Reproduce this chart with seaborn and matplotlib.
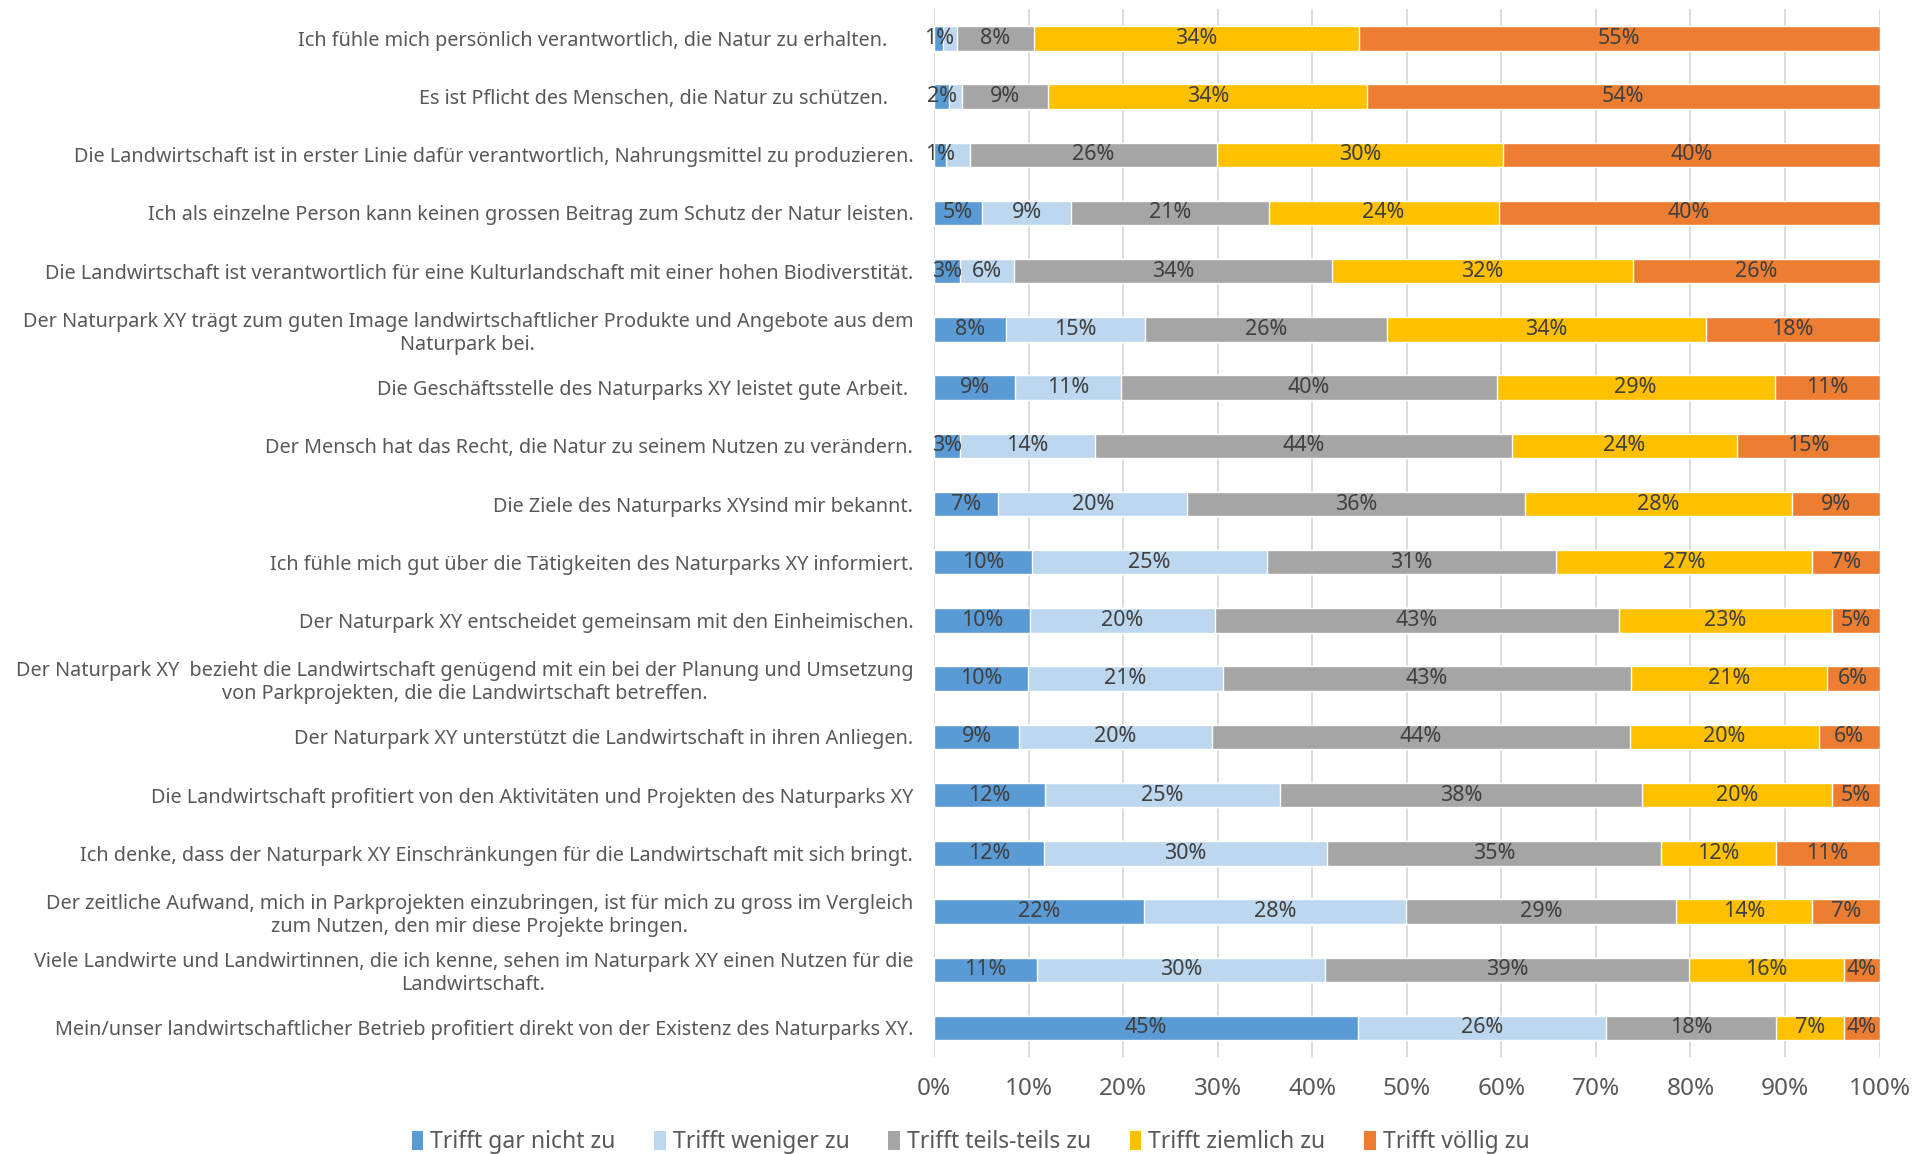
import numpy as np
import pandas as pd
import matplotlib
matplotlib.use("Agg")
import matplotlib.pyplot as plt
import seaborn as sns
from matplotlib.patches import Patch

# Kategorien (von oben nach unten)
statements = [
    "Ich fühle mich persönlich verantwortlich, die Natur zu erhalten.     ",
    "Es ist Pflicht des Menschen, die Natur zu schützen.     ",
    "Die Landwirtschaft ist in erster Linie dafür verantwortlich, Nahrungsmittel zu produzieren.",
    "Ich als einzelne Person kann keinen grossen Beitrag zum Schutz der Natur leisten.",
    "Die Landwirtschaft ist verantwortlich für eine Kulturlandschaft mit einer hohen Biodiverstität.",
    "Der Naturpark XY trägt zum guten Image landwirtschaftlicher Produkte und Angebote aus dem\nNaturpark bei.",
    "Die Geschäftsstelle des Naturparks XY leistet gute Arbeit. ",
    "Der Mensch hat das Recht, die Natur zu seinem Nutzen zu verändern.",
    "Die Ziele des Naturparks XYsind mir bekannt.",
    "Ich fühle mich gut über die Tätigkeiten des Naturparks XY informiert.",
    "Der Naturpark XY entscheidet gemeinsam mit den Einheimischen.",
    "Der Naturpark XY  bezieht die Landwirtschaft genügend mit ein bei der Planung und Umsetzung\nvon Parkprojekten, die die Landwirtschaft betreffen.",
    "Der Naturpark XY unterstützt die Landwirtschaft in ihren Anliegen.",
    "Die Landwirtschaft profitiert von den Aktivitäten und Projekten des Naturparks XY",
    "Ich denke, dass der Naturpark XY Einschränkungen für die Landwirtschaft mit sich bringt.",
    "Der zeitliche Aufwand, mich in Parkprojekten einzubringen, ist für mich zu gross im Vergleich\nzum Nutzen, den mir diese Projekte bringen.",
    "Viele Landwirte und Landwirtinnen, die ich kenne, sehen im Naturpark XY einen Nutzen für die\nLandwirtschaft.",
    "Mein/unser landwirtschaftlicher Betrieb profitiert direkt von der Existenz des Naturparks XY.",
]

series_names = ["Trifft gar nicht zu", "Trifft weniger zu", "Trifft teils-teils zu",
                "Trifft ziemlich zu", "Trifft völlig zu"]

gar_nicht = [1.0, 1.6, 1.3, 5.1, 2.7, 7.6, 8.6, 2.7, 6.8, 10.4, 10.1, 9.9, 9.0, 11.7, 11.6, 22.2, 10.9, 44.8]
weniger = [1.4, 1.4, 2.5, 9.4, 5.8, 14.7, 11.2, 14.3, 20.0, 24.8, 19.6, 20.7, 20.4, 24.9, 30.0, 27.7, 30.4, 26.3]
teils = [8.2, 9.1, 26.1, 20.9, 33.6, 25.6, 39.7, 44.1, 35.7, 30.6, 42.7, 43.1, 44.2, 38.3, 35.3, 28.6, 38.6, 17.9]
ziemlich = [34.3, 33.7, 30.3, 24.3, 31.8, 33.7, 29.4, 23.8, 28.2, 27.1, 22.6, 20.7, 20.0, 20.1, 12.1, 14.4, 16.3, 7.2]
voellig = [55.1, 54.2, 39.8, 40.3, 26.1, 18.4, 11.1, 15.1, 9.3, 7.1, 5.0, 5.6, 6.4, 5.0, 11.0, 7.1, 3.8, 3.8]

colors = ["#5B9BD5", "#BDD7EE", "#A5A5A5", "#FFC000", "#ED7D31"]

sns.set_style("white")
plt.rcParams["font.family"] = ["Noto Sans", "DejaVu Sans"]

df = pd.DataFrame({
    "Aussage": statements,
    series_names[0]: gar_nicht,
    series_names[1]: weniger,
    series_names[2]: teils,
    series_names[3]: ziemlich,
    series_names[4]: voellig,
})
vals = df[series_names].to_numpy()
cum = vals.cumsum(axis=1)

fig = plt.figure(figsize=(19.14, 11.54), dpi=100)
ax = fig.add_axes([0.488, 0.084, 0.494, 0.908])

# gestapelte Balken: von hinten (kumuliert) nach vorne
for i in range(len(series_names) - 1, -1, -1):
    sns.barplot(x=cum[:, i], y=df["Aussage"], orient="h", color=colors[i],
                width=0.42, saturation=1, ax=ax, zorder=2)

# Datenbeschriftungen
for r in range(len(statements)):
    for i in range(len(series_names)):
        v = vals[r, i]
        if i == 1 and v < 2.6:
            continue
        x = cum[r, i] - v / 2
        ax.text(x, r, f"{v:.0f}%", ha="center", va="center",
                fontsize=15.5, color="#404040", zorder=3)

ax.set_xlim(0, 100)
ax.set_ylim(len(statements) - 0.5, -0.5)
ax.set_xticks(np.arange(0, 101, 10))
ax.set_xticklabels([f"{t}%" for t in range(0, 101, 10)], fontsize=17.5, color="#595959")
ax.tick_params(axis="x", length=0, pad=14)
ax.tick_params(axis="y", length=0, pad=15)
for lab in ax.get_yticklabels():
    lab.set_fontsize(14.3)
    lab.set_color("#595959")
    lab.set_multialignment("center")
ax.set_xlabel("")
ax.set_ylabel("")
ax.grid(axis="x", color="#D9D9D9", linewidth=1.3, zorder=0)
ax.set_axisbelow(True)
for s in ax.spines.values():
    s.set_visible(False)

handles = [Patch(facecolor=c, edgecolor="none") for c in colors]
fig.legend(handles, series_names, loc="lower center", bbox_to_anchor=(0.507, -0.018),
           ncol=5, frameon=False, fontsize=16.5, handlelength=0.5, handleheight=0.9,
           handletextpad=0.3, columnspacing=1.7, labelcolor="#595959")

plt.savefig("out.png", dpi=100)
plt.close()
